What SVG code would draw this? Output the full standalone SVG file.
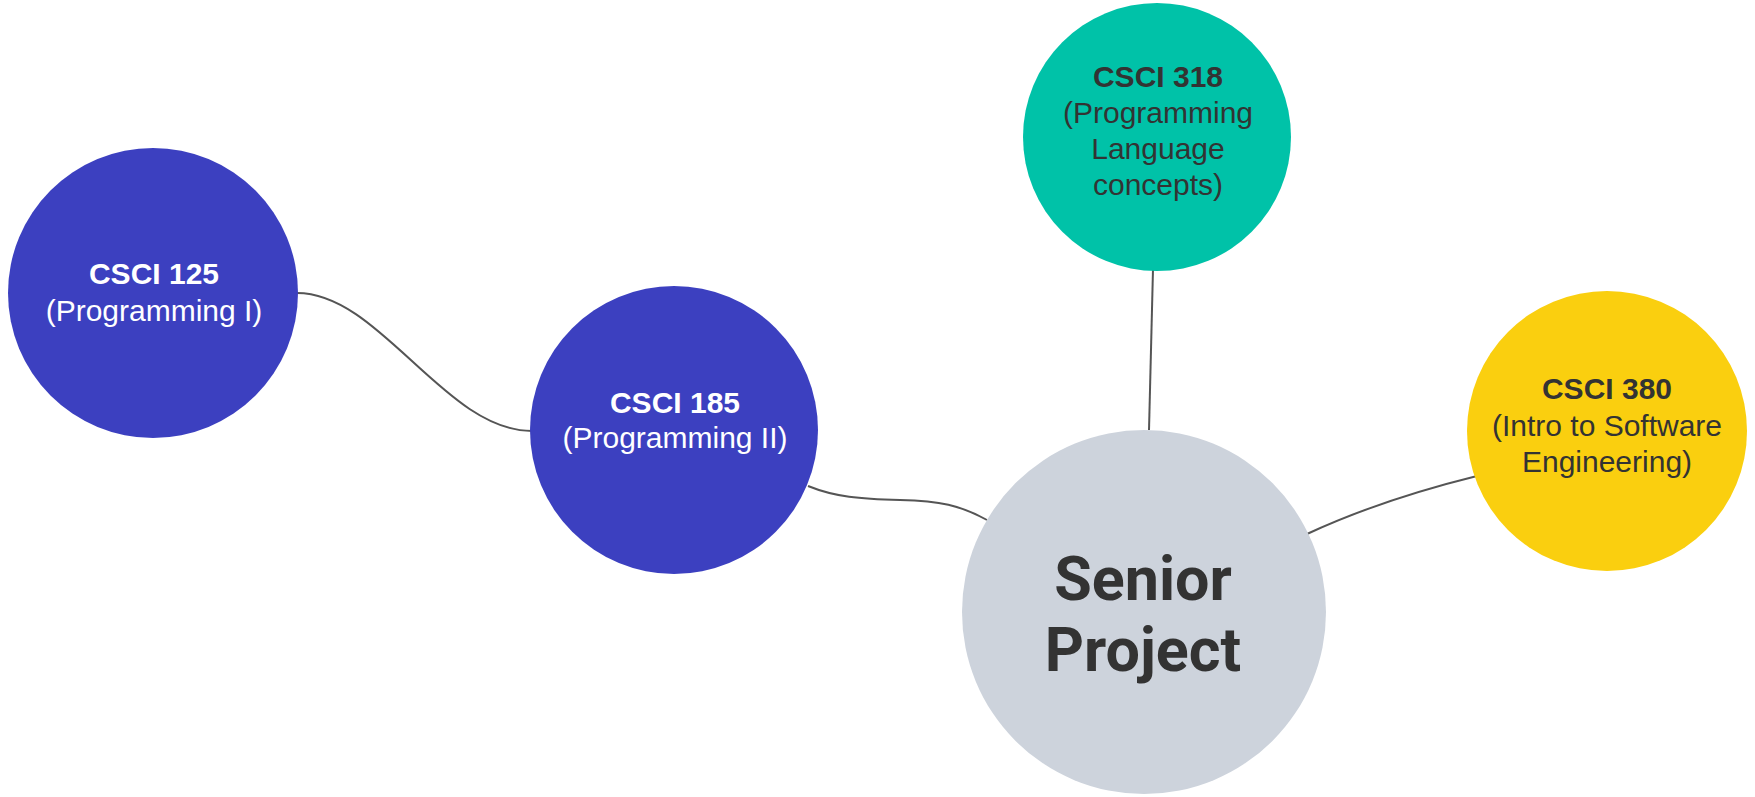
<svg xmlns="http://www.w3.org/2000/svg" width="1755" height="797" viewBox="0 0 1755 797">
<style>
.lbl{font-family:"Liberation Sans",Arial,sans-serif;font-size:30px;text-anchor:middle}
.b{font-weight:bold}
.w{fill:#ffffff}
.d{fill:#333333}
.conn{fill:none;stroke:#555555;stroke-width:2}
.big{font-family:Roboto,"Liberation Sans",sans-serif;font-weight:bold;font-size:61px;text-anchor:middle;fill:#333333}
</style>
<rect width="1755" height="797" fill="#ffffff"/>
<g id="connectors">
<path class="conn" d="M297,293 C380,293 445,431 532,431"/>
<path class="conn" d="M808,486 C835,497 860,499 900,500 S960,505 987,520"/>
<path class="conn" d="M1153,269 L1149,430"/>
<path class="conn" d="M1307,534 Q1380,500 1477,476"/>
</g>
<g id="csci125">
<circle cx="153" cy="293" r="145" fill="#3c40c0"/>
<text class="lbl b w" x="154" y="284">CSCI 125</text>
<text class="lbl w" x="154" y="321">(Programming I)</text>
</g>
<g id="csci185">
<circle cx="674" cy="430" r="144" fill="#3c40c0"/>
<text class="lbl b w" x="675" y="413">CSCI 185</text>
<text class="lbl w" x="675" y="448">(Programming II)</text>
</g>
<g id="csci318">
<circle cx="1157" cy="137" r="134" fill="#00c2a8"/>
<text class="lbl b d" x="1158" y="87">CSCI 318</text>
<text class="lbl d" x="1158" y="123">(Programming</text>
<text class="lbl d" x="1158" y="159">Language</text>
<text class="lbl d" x="1158" y="195">concepts)</text>
</g>
<g id="csci380">
<circle cx="1607" cy="431" r="140" fill="#facf0f"/>
<text class="lbl b d" x="1607" y="399">CSCI 380</text>
<text class="lbl d" x="1607" y="436">(Intro to Software</text>
<text class="lbl d" x="1607" y="472">Engineering)</text>
</g>
<g id="senior">
<circle cx="1144" cy="612" r="182" fill="#cdd3dc"/>
<text class="big" x="1143" y="600">Senior</text>
<text class="big" x="1143" y="671">Project</text>
</g>
</svg>
